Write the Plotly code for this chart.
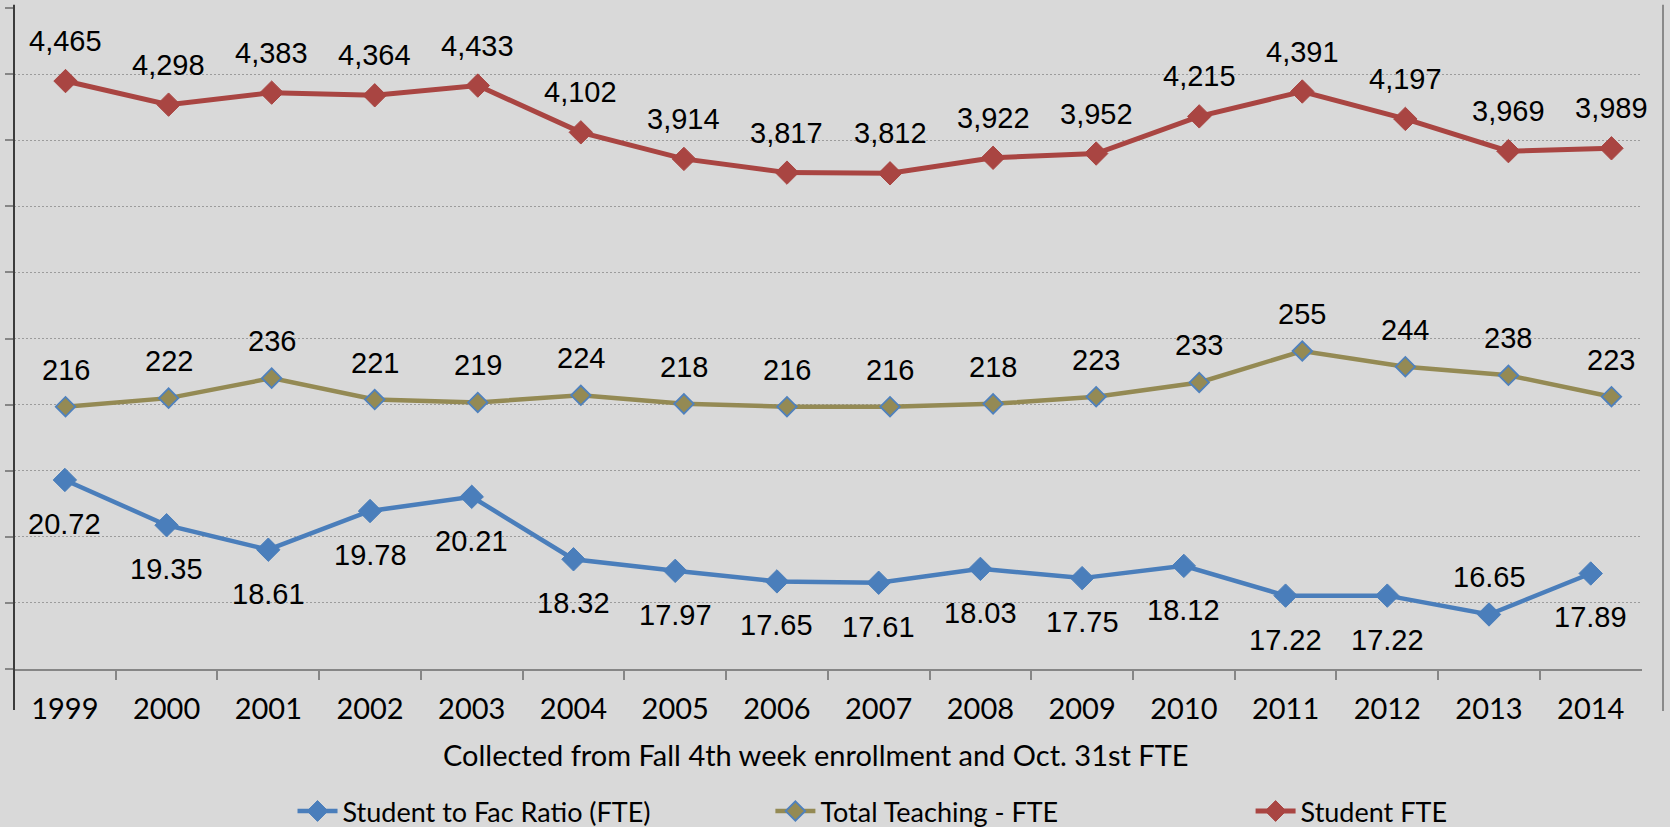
import plotly.graph_objects as go

# ---------------- data ----------------
years = ['1999', '2000', '2001', '2002', '2003', '2004', '2005', '2006',
         '2007', '2008', '2009', '2010', '2011', '2012', '2013', '2014']
ratio = [20.72, 19.35, 18.61, 19.78, 20.21, 18.32, 17.97, 17.65,
         17.61, 18.03, 17.75, 18.12, 17.22, 17.22, 16.65, 17.89]
teaching = [216, 222, 236, 221, 219, 224, 218, 216,
            216, 218, 223, 233, 255, 244, 238, 223]
student = [4465, 4298, 4383, 4364, 4433, 4102, 3914, 3817,
           3812, 3922, 3952, 4215, 4391, 4197, 3969, 3989]
ratio_label_side = ['below'] * 14 + ['above', 'below']

series_names = ['Student to Fac Ratio (FTE)', 'Total Teaching - FTE', 'Student FTE']
x_title = 'Collected from Fall 4th week enrollment and Oct. 31st FTE'

# ---------------- style ----------------
BG = '#D9D9D9'
BLUE = '#4A7EBB'
GOLD = '#948A54'
RED = '#A94542'
GRID = '#9C9C9C'
AXIS = '#868686'
LABEL_FONT = dict(family='Liberation Sans, Arial, sans-serif', size=29, color='black')
CAL_FONT = dict(family='Lato, Carlito, Calibri, sans-serif', size=27, color='black')
TITLE_FONT = dict(family='Lato, Carlito, Calibri, sans-serif', size=29, color='black')

fig = go.Figure()

fig.add_trace(go.Scatter(
    x=years, y=ratio, name=series_names[0], mode='lines+markers',
    xaxis='x', yaxis='y', cliponaxis=False, legend='legend',
    line=dict(color=BLUE, width=4.5),
    marker=dict(symbol='diamond', size=18, color=BLUE, line=dict(color=BLUE, width=1)),
))
fig.add_trace(go.Scatter(
    x=years, y=teaching, name=series_names[1], mode='lines+markers',
    xaxis='x2', yaxis='y2', cliponaxis=False, legend='legend2',
    line=dict(color=GOLD, width=4.5),
    marker=dict(symbol='diamond', size=15, color=GOLD, line=dict(color='#4F81BD', width=1.8)),
))
fig.add_trace(go.Scatter(
    x=years, y=student, name=series_names[2], mode='lines+markers',
    xaxis='x2', yaxis='y3', cliponaxis=False, legend='legend3',
    line=dict(color=RED, width=5),
    marker=dict(symbol='diamond', size=18, color=RED, line=dict(color=RED, width=1)),
))

# data labels: on category axes annotations take the category's serial index
annotations = []
for i, (v, side) in enumerate(zip(ratio, ratio_label_side)):
    annotations.append(dict(x=i, y=v, xref='x', yref='y', text=f'{v:.2f}',
                            showarrow=False, font=LABEL_FONT,
                            yshift=-44 if side == 'below' else 37))
for i, v in enumerate(teaching):
    annotations.append(dict(x=i, y=v, xref='x2', yref='y2', text=f'{v:,}',
                            showarrow=False, font=LABEL_FONT, yshift=37))
for i, v in enumerate(student):
    annotations.append(dict(x=i, y=v, xref='x2', yref='y3', text=f'{v:,}',
                            showarrow=False, font=LABEL_FONT, yshift=40))

annotations.append(dict(x=0.4863, y=-0.1286, xref='paper', yref='paper', text=x_title,
                        showarrow=False, font=TITLE_FONT, xanchor='center', yanchor='middle'))

leg_common = dict(orientation='h', xanchor='left', y=-0.2155, yanchor='middle',
                  font=CAL_FONT, bgcolor='rgba(0,0,0,0)', itemwidth=40)

fig.update_layout(
    width=1670, height=827,
    margin=dict(l=14, r=7, t=8, b=158, autoexpand=False),
    paper_bgcolor=BG, plot_bgcolor='rgba(0,0,0,0)',
    showlegend=True,
    legend=dict(x=0.1689, **leg_common),
    legend2=dict(x=0.4587, **leg_common),
    legend3=dict(x=0.7499, **leg_common),
    xaxis=dict(type='category', domain=[0, 0.98702], anchor='y',
               range=[-0.5, len(years) - 0.5], autorange=False,
               showgrid=False, showline=True, linecolor=AXIS, linewidth=2,
               ticks='outside', ticklen=9, tickwidth=2, tickcolor=AXIS,
               tickson='boundaries', tickfont=TITLE_FONT, ticklabelstandoff=13,
               tickangle=0, zeroline=False),
    yaxis=dict(range=[15, 35], tick0=15, dtick=2, domain=[0, 1], anchor='x',
               showgrid=True, gridcolor=GRID, gridwidth=1, griddash='2px,2px',
               showline=False, zeroline=False, showticklabels=False,
               ticks='outside', ticklen=8, tickwidth=2, tickcolor=AXIS),
    xaxis2=dict(type='category', domain=[0, 1], anchor='y2', visible=False,
                range=[-0.5, len(years) - 0.5], autorange=False),
    yaxis2=dict(range=[32.4, 495.1], domain=[0, 1], anchor='x2', visible=False),
    yaxis3=dict(range=[304, 4982], domain=[0, 1], anchor='x2', overlaying='y2', visible=False),
    annotations=annotations,
    shapes=[
        dict(type='line', xref='paper', yref='paper', x0=0, x1=0, y0=1.005, y1=-0.062,
             line=dict(color='#3C3C3C', width=2)),
        dict(type='line', xref='paper', yref='paper', x0=1, x1=1, y0=1.005, y1=-0.0636,
             line=dict(color='#8A8A8A', width=2)),
    ],
)

fig.write_html('out.html', config={'displayModeBar': False},
               post_script="document.body.style.margin='0';document.body.style.overflow='hidden';")
